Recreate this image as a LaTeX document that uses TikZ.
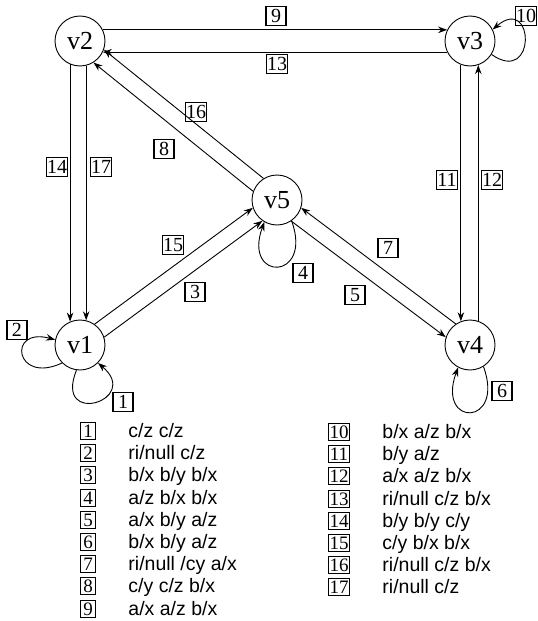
\documentclass[tikz,border=0pt]{standalone}
\usepackage{fontspec}
\setmainfont{Liberation Serif}
\newfontfamily\legfont{Liberation Sans}
\usetikzlibrary{arrows.meta}
\begin{document}
\begin{tikzpicture}[x=1pt,y=1pt, line width=0.9pt,
  state/.style={circle,draw,minimum size=50pt,inner sep=0pt,font=\fontsize{26}{26}\selectfont},
  lab/.style={draw,line width=1.1pt,inner sep=0.5pt,minimum width=20pt,minimum height=19pt,text height=13pt,text depth=0pt,font=\fontsize{20}{20}\selectfont},
  leg/.style={draw,line width=1.1pt,inner xsep=1.2pt,inner ysep=1pt,minimum height=17pt,minimum width=15pt,text height=13pt,text depth=0pt,font=\fontsize{19}{19}\selectfont},
  legtext/.style={anchor=west,inner sep=0pt,text height=13pt,text depth=0pt,font=\legfont\fontsize{19.5}{19.5}\selectfont},
  arr/.style={-{Stealth[length=9pt,width=6.5pt]}}]
\useasboundingbox (0,0) rectangle (538,-621);
% states
\node[state] (v2) at (80,-41) {v2};
\node[state] (v3) at (470,-41) {v3};
\node[state] (v1) at (80,-345) {v1};
\node[state] (v5) at (277,-200) {v5};
\node[state] (v4) at (470,-345) {v4};
% v2 - v3
\draw[arr] (v2.26) -- (v3.154);
\draw[arr] (v3.-154) -- (v2.-26);
% v2 - v1
\draw[arr] (v2.-113.6) -- (v1.113.6);
\draw[arr] (v2.-76) -- (v1.76);
% v3 - v4
\draw[arr] (v3.-111) -- (v4.111);
\draw[arr] (v4.71) -- (v3.-71);
% v5 - v2
\draw[arr] (v5.122) -- (v2.-20);
\draw[arr] (v5.160) -- (v2.-58);
% v1 - v5
\draw[arr] (v1.55) -- (v5.198);
\draw[arr] (v1.18) -- (v5.235);
% v5 - v4
\draw[arr] (v4.124) -- (v5.-18);
\draw[arr] (v5.-56) -- (v4.162);
% loops
\draw[arr] (v3.-32) .. controls +(-35:55) and +(40:55) .. (v3.27);
\draw[arr] (v1.-135) .. controls +(-155:52) and +(165:50) .. (v1.168);
\draw[arr] (v1.-98) .. controls +(-112:62) and +(-40:58) .. (v1.-45);
\draw[arr] (v5.-55) .. controls +(-70:64) and +(-110:64) .. (v5.-120);
\draw[arr] (v4.-58) .. controls +(-70:64) and +(-110:64) .. (v4.-118);
% edge labels
\node[lab] (l9) at (276,-16) {9};
\node[lab] (l13) at (277,-64) {13};
\node[lab] (l14) at (57,-167) {14};
\node[lab] (l17) at (101,-167) {17};
\node[lab] (l11) at (447,-180) {11};
\node[lab] (l12) at (492,-180) {12};
\node[lab] (l16) at (196,-112) {16};
\node[lab] (l8) at (164,-149) {8};
\node[lab] (l15) at (173,-245) {15};
\node[lab] (l3) at (195,-292) {3};
\node[lab] (l7) at (388,-248) {7};
\node[lab] (l5) at (355,-295) {5};
\node[lab] (l10) at (526,-16) {10};
\node[lab] (l2) at (17,-330) {2};
\node[lab] (l1) at (123,-402) {1};
\node[lab] (l4) at (303,-273) {4};
\node[lab] (l6) at (502,-391) {6};
% legend
\foreach \i/\t [count=\k] in {1/{c/z c/z},2/{ri/null c/z},3/{b/x b/y b/x},4/{a/z b/x b/x},5/{a/x b/y a/z},6/{b/x b/y a/z},7/{ri/null /cy a/x},8/{c/y c/z b/x},9/{a/x a/z b/x}}{
  \node[leg] (k\i) at (88,{-431-22.2*(\k-1)}) {\i};
  \node[legtext] (t\i) at (128,{-431-22.2*(\k-1)}) {\t};
}
\foreach \i/\t [count=\k] in {10/{b/x a/z b/x},11/{b/y a/z},12/{a/x a/z b/x},13/{ri/null c/z b/x},14/{b/y b/y c/y},15/{c/y b/x b/x},16/{ri/null c/z b/x},17/{ri/null c/z}}{
  \node[leg] (k\i) at (339,{-432-22.2*(\k-1)}) {\i};
  \node[legtext] (t\i) at (382,{-432-22.2*(\k-1)}) {\t};
}
\end{tikzpicture}
\end{document}
